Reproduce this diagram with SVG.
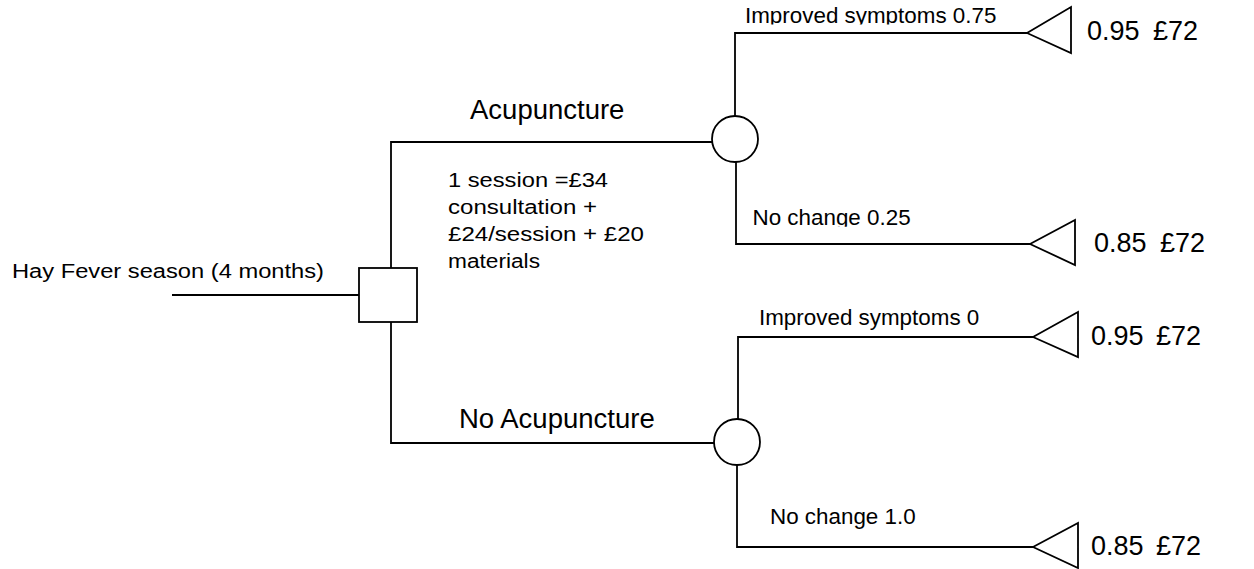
<svg xmlns="http://www.w3.org/2000/svg" width="1254" height="569" viewBox="0 0 1254 569">
<style>
.ln{fill:none;stroke:#000;stroke-width:1.8}
.sh{fill:#fff;stroke:#000;stroke-width:1.8}
text{font-family:"Liberation Sans",Arial,sans-serif;fill:#000}
.big{font-size:27.5px}
.mid{font-size:22.4px}
.val{font-size:27px}
.sm{font-size:20px}
</style>
<defs>
<clipPath id="c1"><rect x="700" y="0" width="400" height="24.5"/></clipPath>
<clipPath id="c2"><rect x="700" y="190" width="400" height="36.7"/></clipPath>
</defs>
<g id="connectors">
<polyline class="ln" points="172,295 359,295"/>
<polyline class="ln" points="391,268 391,142 713,142"/>
<polyline class="ln" points="391,322 391,443 714,443"/>
<polyline class="ln" points="735,116 735,33 1027,33"/>
<polyline class="ln" points="736,162 736,244 1030,244"/>
<polyline class="ln" points="738,419 738,337 1033,337"/>
<polyline class="ln" points="737,465 737,547 1033,547"/>
</g>
<g id="start">
<text class="sm" x="12" y="278" textLength="312" lengthAdjust="spacingAndGlyphs">Hay Fever season (4 months)</text>
</g>
<g id="decision">
<rect class="sh" x="359" y="268" width="58" height="54"/>
</g>
<g id="acupuncture-label">
<text class="big" x="470" y="119">Acupuncture</text>
<text class="sm" x="448" y="187" textLength="160" lengthAdjust="spacingAndGlyphs">1 session =£34</text>
<text class="sm" x="448" y="214" textLength="149" lengthAdjust="spacingAndGlyphs">consultation +</text>
<text class="sm" x="448" y="241" textLength="196" lengthAdjust="spacingAndGlyphs">£24/session + £20</text>
<text class="sm" x="448" y="268" textLength="92" lengthAdjust="spacingAndGlyphs">materials</text>
</g>
<g id="no-acupuncture-label">
<text class="big" x="459" y="428">No Acupuncture</text>
</g>
<g id="chance1">
<circle class="sh" cx="735" cy="139" r="23"/>
</g>
<g id="chance2">
<circle class="sh" cx="737" cy="442" r="23"/>
</g>
<g id="outcome1">
<text class="mid" x="745" y="23" clip-path="url(#c1)">Improved symptoms 0.75</text>
<polygon class="sh" points="1027,33 1071,7 1071,53"/>
<text class="val" x="1087" y="40">0.95</text>
<text class="val" x="1153" y="40">£72</text>
</g>
<g id="outcome2">
<text class="mid" x="752.5" y="225" clip-path="url(#c2)">No change 0.25</text>
<polygon class="sh" points="1030,244 1075,220 1075,265"/>
<text class="val" x="1094" y="252">0.85</text>
<text class="val" x="1160" y="252">£72</text>
</g>
<g id="outcome3">
<text class="mid" x="759" y="325">Improved symptoms 0</text>
<polygon class="sh" points="1033,337 1078,312 1078,357"/>
<text class="val" x="1091" y="345">0.95</text>
<text class="val" x="1156" y="345">£72</text>
</g>
<g id="outcome4">
<text class="mid" x="770" y="524">No change 1.0</text>
<polygon class="sh" points="1033,547 1078,523 1078,568"/>
<text class="val" x="1091" y="555">0.85</text>
<text class="val" x="1156" y="555">£72</text>
</g>
</svg>
